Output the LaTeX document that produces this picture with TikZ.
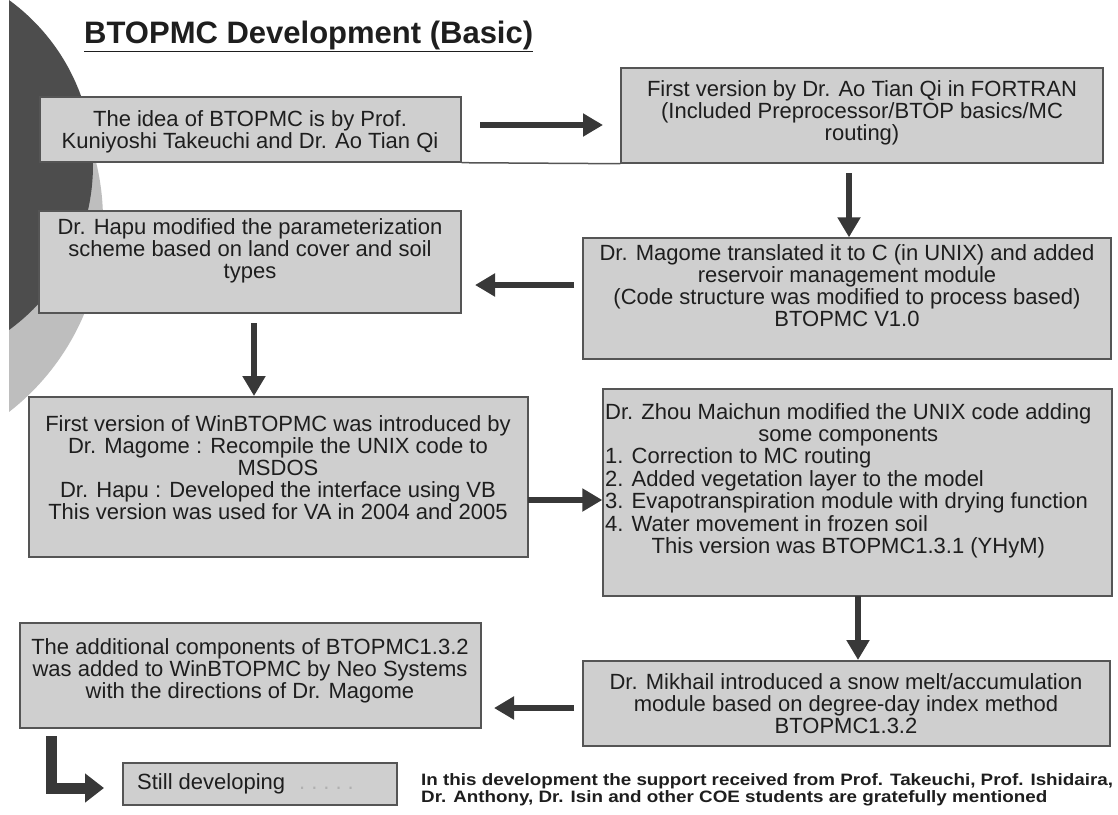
\documentclass[tikz,border=0pt]{standalone}
\usepackage{fontspec}
\setmainfont{Liberation Sans}
\usetikzlibrary{arrows.meta}
\definecolor{boxfill}{HTML}{CFCFCF}
\definecolor{boxline}{HTML}{555555}
\definecolor{lightc}{HTML}{BEBEBE}
\definecolor{darkc}{HTML}{4D4D4D}
\definecolor{arrc}{HTML}{383838}
\definecolor{txtc}{HTML}{1E1E1E}
\definecolor{dotc}{HTML}{B0B0B0}
\begin{document}
\begin{tikzpicture}[x=1pt,y=-1pt,
  box/.style={draw=boxline,line width=1.4pt,fill=boxfill,inner sep=0pt},
  txt/.style={align=center,inner sep=0pt,text=txtc,font=\fontsize{22}{22}\selectfont},
  arr/.style={draw=arrc,line width=6pt,-{Triangle[length=20pt,width=22pt]}},
]
\useasboundingbox (0,0) rectangle (1118,814);
\fill[white] (0,0) rectangle (1118,814);
\begin{scope}
  \clip (9,0) rectangle (1118,814);
  \fill[lightc] (-140,220) circle[radius=243pt];
  \fill[darkc] (-111,165) circle[radius=204pt];
\end{scope}

% title
\node[anchor=base west,inner sep=0pt,text=txtc,font=\fontsize{31}{31}\selectfont\bfseries] (title) at (84,43) {\underline{BTOPMC Development (Basic)}};

% boxes
\node[box,minimum width=421pt,minimum height=65pt] (b1) at (250.5,129.5) {};
\node[box,minimum width=482pt,minimum height=95pt] (b2) at (862,115.5) {};
\node[box,minimum width=528pt,minimum height=121pt] (b3) at (847,298.5) {};
\node[box,minimum width=422pt,minimum height=102pt] (bh) at (250,262) {};
\node[box,minimum width=499pt,minimum height=160pt] (b5) at (278.5,477) {};
\node[box,minimum width=509pt,minimum height=207pt] (b4) at (857.5,492.5) {};
\node[box,minimum width=527pt,minimum height=85pt] (b6) at (846.5,703.5) {};
\node[box,minimum width=461pt,minimum height=105pt] (b7) at (250.5,675.5) {};
\node[box,minimum width=274pt,minimum height=42pt] (bs) at (260,784) {};

% texts
\node[txt] (t1) at (250,132) {The idea of BTOPMC is by Prof.\\Kuniyoshi Takeuchi and Dr. Ao Tian Qi};
\node[txt] (t2) at (862,113) {First version by Dr. Ao Tian Qi in FORTRAN\\(Included Preprocessor/BTOP basics/MC\\routing)};
\node[txt] (t3) at (847,286) {Dr. Magome translated it to C (in UNIX) and added\\reservoir management module\\(Code structure was modified to process based)\\BTOPMC V1.0};
\node[txt] (th) at (250,251) {Dr. Hapu modified the parameterization\\scheme based on land cover and soil\\types};
\node[txt] (t5) at (278,468) {First version of WinBTOPMC was introduced by\\Dr. Magome : Recompile the UNIX code to\\MSDOS\\Dr. Hapu : Developed the interface using VB\\This version was used for VA in 2004 and 2005};
\node[txt,anchor=north west] (t4) at (605,403) {\begin{tabular}{@{}l@{}}
\multicolumn{1}{@{}c@{}}{Dr. Zhou Maichun modified the UNIX code adding}\\
\multicolumn{1}{@{}c@{}}{some components}\\
1. Correction to MC routing\\
2. Added vegetation layer to the model\\
3. Evapotranspiration module with drying function\\
4. Water movement in frozen soil\\
\multicolumn{1}{@{}c@{}}{This version was BTOPMC1.3.1 (YHyM)}
\end{tabular}};
\node[txt] (t6) at (846,704) {Dr. Mikhail introduced a snow melt/accumulation\\module based on degree-day index method\\BTOPMC1.3.2};
\node[txt] (t7) at (250,671) {The additional components of BTOPMC1.3.2\\was added to WinBTOPMC by Neo Systems\\with the directions of Dr. Magome};
\node[txt,anchor=west] (ts) at (137,784) {Still developing\hspace{14pt}\textcolor{dotc}{.\hspace{6pt}.\hspace{6pt}.\hspace{6pt}.\hspace{6pt}.}};
\node[anchor=north west,inner sep=0pt,text=txtc,font=\fontsize{16.5}{17.5}\selectfont\bfseries] (note) at (421,773) {\scalebox{1.14}[1]{\begin{tabular}{@{}l@{}}In this development the support received from Prof. Takeuchi, Prof. Ishidaira,\\Dr. Anthony, Dr. Isin and other COE students are gratefully mentioned\end{tabular}}};

% connectors
\draw[draw=boxline,line width=1.5pt] (b1.south east) -- (b2.south west);
\coordinate (a1s) at (480,125); \coordinate (a1e) at (603,125);
\draw[arr] (a1s) -- (a1e);
\coordinate (a2s) at (849,173);
\draw[arr] (a2s) -- (a2s |- b3.north);
\coordinate (a3s) at (574,285); \coordinate (a3e) at (475,285);
\draw[arr] (a3s) -- (a3e);
\coordinate (a4s) at (254,323); \coordinate (a4e) at (254,396);
\draw[arr] (a4s) -- (a4e);
\coordinate (a5s) at (528,500);
\draw[arr] (a5s) -- (a5s -| b4.west);
\coordinate (a6s) at (858,596); \coordinate (a6e) at (858,660);
\draw[arr] (a6s) -- (a6e);
\coordinate (a7s) at (574,708); \coordinate (a7e) at (494,708);
\draw[arr] (a7s) -- (a7e);
\coordinate (ls) at (51,736); \coordinate (lc) at (51,788); \coordinate (le) at (104,788);
\draw[draw=arrc,line width=11pt,-{Triangle[length=19pt,width=28pt]}] (ls) -- (lc) -- (le);
\end{tikzpicture}
\end{document}
